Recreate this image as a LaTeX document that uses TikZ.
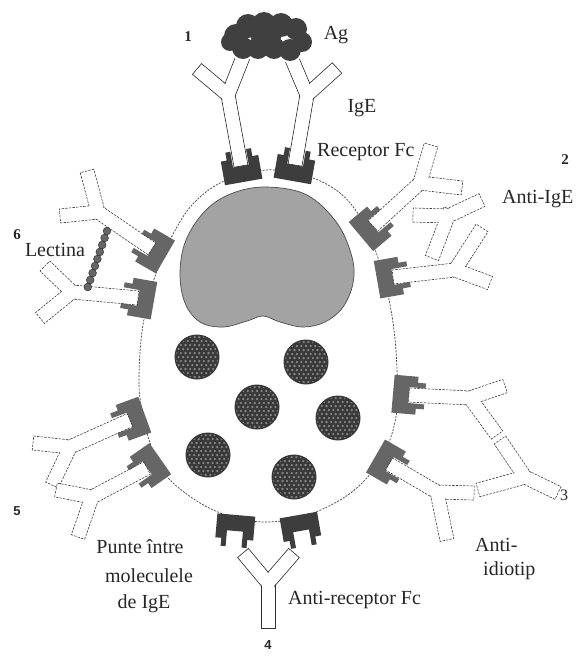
\documentclass[tikz,border=0pt]{standalone}
\usepackage{fontspec}
\setmainfont{Liberation Serif}
\newfontfamily\sansnum{Liberation Sans}
\usetikzlibrary{calc}

\definecolor{rdark}{gray}{0.24}
\definecolor{rmid}{gray}{0.40}

% one antibody segment: from #1 (pushed back by #4) to #2 (pulled in by #5), half width #3
\newcommand{\abrect}[5]{($(#1)!-#4!(#2)!#3!90:(#2)$) -- ($(#2)!#5!(#1)!#3!-90:(#1)$) -- ($(#2)!#5!(#1)!#3!90:(#1)$) -- ($(#1)!-#4!(#2)!#3!-90:(#2)$) -- cycle}

% Y-shaped immunoglobulin: stem tip #2, hinge #3, arm tips #4 and #5
\newcommand{\antibody}[5][abline]{%
  \draw[#1] \abrect{#3}{#2}{7pt}{7pt}{0pt};
  \draw[#1] \abrect{#3}{#4}{7pt}{3pt}{0pt};
  \draw[#1] \abrect{#3}{#5}{7pt}{3pt}{0pt};
  \fill[white] \abrect{#3}{#2}{6.3pt}{6.3pt}{0.7pt};
  \fill[white] \abrect{#3}{#4}{6.3pt}{2.3pt}{0.7pt};
  \fill[white] \abrect{#3}{#5}{6.3pt}{2.3pt}{0.7pt};}

% Fc receptor sitting on the membrane at #1, pointing outward at angle #2
\newcommand{\receptor}[3]{%
  \begin{scope}[shift={(#1)},rotate={#2-90}]
    \fill[#3] (-19pt,-4pt) -- (19pt,-4pt) -- (19pt,20pt) -- (13pt,20pt) -- (13pt,28pt)
      -- (8pt,28pt) -- (8pt,12pt) -- (-8pt,12pt) -- (-8pt,28pt) -- (-13pt,28pt)
      -- (-13pt,20pt) -- (-19pt,20pt) -- cycle;
  \end{scope}}

% dense secretory granule
\newcommand{\granule}[1]{%
  \fill[black!78] (#1) circle (22.5pt);
  \begin{scope}
    \clip (#1) circle (21pt);
    \foreach \i in {-5,...,5}{\foreach \j in {-6,...,6}{%
      \fill[black!48] ($(#1)+({\i*4.6+2.3*mod(abs(\j),2)},{\j*4})$) circle (1.3pt);}}
  \end{scope}}

\begin{document}
\begin{tikzpicture}[x=1pt,y=-1pt,
  membrane/.style={draw=black!75, line width=0.7pt, dash pattern=on 2pt off 1.3pt},
  abline/.style={draw=black!75, line width=0.65pt, dash pattern=on 2.4pt off 1.2pt},
  absolid/.style={draw=black!80, line width=0.7pt},
  lbl/.style={font=\fontsize{20}{22}\selectfont, text=black!85, inner sep=0pt},
  num/.style={font=\bfseries\fontsize{15}{15}\selectfont, text=black!85, inner sep=0pt},
  snum/.style={font=\sansnum\bfseries\fontsize{13}{13}\selectfont, text=black!85, inner sep=0pt}]
\useasboundingbox (0,0) rectangle (580,656);

% cell membrane
\draw[membrane, fill=white] plot[smooth cycle, tension=0.6] coordinates {
  (265,170) (307,176) (340,193) (362,220) (376,252) (387,290) (394,330) (397,370)
  (397,410) (388,445) (372,472) (345,497) (305,516) (267,522) (232,517) (200,503)
  (170,480) (156,458) (147,433) (142,410) (139,385) (141,340) (148,300) (158,268)
  (172,236) (192,205) (222,182)};

% nucleus
\draw[black!70, line width=0.7pt, fill=black!36] plot[smooth cycle, tension=0.6] coordinates {
  (267,187) (307,195) (337,223) (352,257) (353,283) (343,307) (325,322) (303,327)
  (280,322) (263,316) (247,321) (223,327) (200,322) (185,303) (180,273) (186,240)
  (206,210) (233,193)};

% granules
\granule{197,357}
\granule{306,362}
\granule{257,407}
\granule{338,418}
\granule{208,455}
\granule{294,477}

% Fc receptors
\receptor{243,178}{100}{rdark}
\receptor{293,177}{80}{rdark}
\receptor{364,234}{40}{rmid}
\receptor{381,279}{10}{rmid}
\receptor{397,394}{-5}{rmid}
\receptor{379,458}{-30}{rmid}
\receptor{236,519}{-95}{rdark}
\receptor{299,519}{-80}{rdark}
\receptor{141,416}{200}{rmid}
\receptor{157,461}{215}{rmid}
\receptor{162,255}{150}{rmid}
\receptor{150,300}{170}{rmid}

% 1: IgE bridged by antigen
\antibody[absolid]{241,166}{228,95}{197,69}{243,57}
\antibody[absolid]{295,165}{307,95}{337,68}{291,57}
\foreach \x/\y/\r in {236/36/12, 248/26/12, 264/24/12, 281/25/12, 296/29/11, 302/42/10,
    290/50/11, 274/48/11, 258/48/11, 243/48/11, 230/42/9, 266/36/15}
  \fill[white] (\x,\y) circle [radius=\r pt+2pt];
\foreach \x/\y/\r in {236/36/12, 248/26/12, 264/24/12, 281/25/12, 296/29/11, 302/42/10,
    290/50/11, 274/48/11, 258/48/11, 243/48/11, 230/42/9, 266/36/15}
  \fill[black!75] (\x,\y) circle [radius=\r pt];

% 2: anti-IgE crosslinking two IgE
\antibody{373,226}{420,183}{431,145}{462,188}
\antibody{393,277}{455,270}{482,228}{490,283}
\antibody{432,258}{448,216}{413,215}{482,200}

% 3: anti-idiotype
\antibody{409,395}{470,398}{505,386}{497,435}
\antibody{389,464}{437,492}{474,493}{447,540}
\antibody{558,493}{525,477}{500,440}{478,490}

% 4: anti-receptor antibody
\antibody[absolid]{268,628}{268,583}{243,553}{294,553}

% 5: IgE bridged to IgE
\antibody{130,420}{70,447}{33,443}{52,485}
\antibody{147,468}{92,497}{56,490}{78,537}

% 6: lectin
\antibody{152,249}{98,212}{87,171}{60,216}
\antibody{138,298}{72,292}{45,266}{40,318}
\foreach \k in {0,...,8}
  \fill[black!60, draw=black!85, line width=0.4pt] ($(107,231)+(-2.4*\k,7*\k)$) circle (3.9pt);

% labels
\node[num] (n1) at (188,37) {1};
\node[lbl] (ag) at (336,35) {Ag};
\node[lbl] (ige) at (362,108) {IgE};
\node[lbl, anchor=west] (rfc) at (317,152) {Receptor Fc};
\node[num] (n2) at (565,160) {2};
\node[lbl, anchor=west] (aige) at (502,199) {Anti-IgE};
\node[num] (n6) at (17,235) {6};
\node[lbl] (lect) at (55,250) {Lectina};
\node[snum] (n5) at (17,511) {5};
\node[lbl] (pt1) at (140,547) {Punte între};
\node[lbl] (pt2) at (149,576) {moleculele};
\node[lbl] (pt3) at (144,604) {de IgE};
\node[lbl, anchor=west] (aid1) at (475,545) {Anti-};
\node[lbl, anchor=west] (aid2) at (483,571) {idiotip};
\node[font=\fontsize{16}{16}\selectfont, text=black!85, inner sep=0pt] (n3) at (564,495) {3};
\node[lbl, anchor=west] (arfc) at (288,600) {Anti-receptor Fc};
\node[snum] (n4) at (268,645) {4};
\end{tikzpicture}
\end{document}
